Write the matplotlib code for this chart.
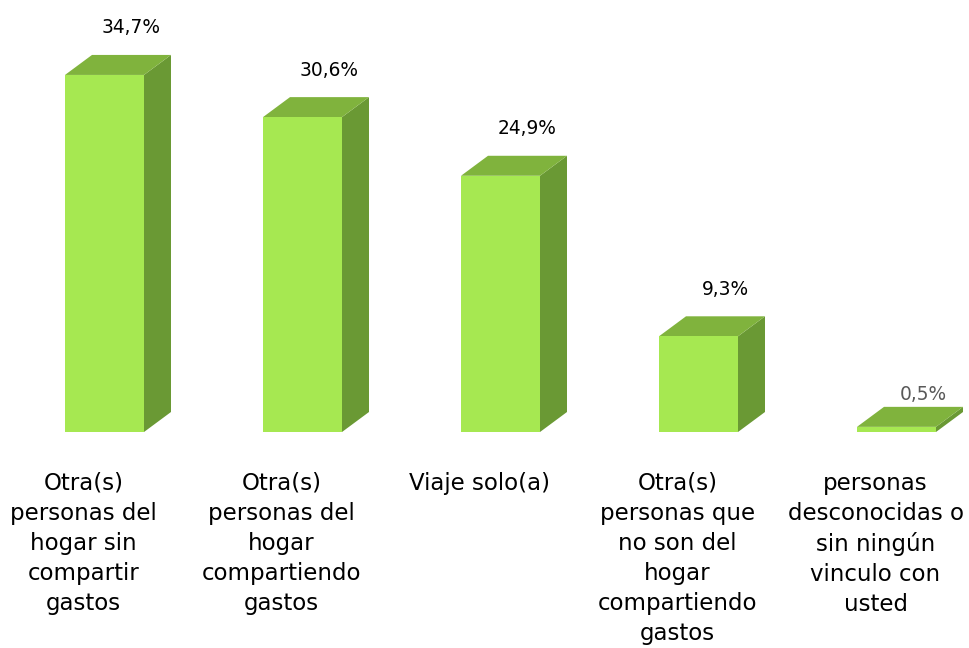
import matplotlib
matplotlib.use("Agg")
import matplotlib.pyplot as plt
from matplotlib.patches import Polygon

categories = [
    "Otra(s)\npersonas del\nhogar sin\ncompartir\ngastos",
    "Otra(s)\npersonas del\nhogar\ncompartiendo\ngastos",
    "Viaje solo(a)",
    "Otra(s)\npersonas que\nno son del\nhogar\ncompartiendo\ngastos",
    "personas\ndesconocidas o\nsin ningún\nvinculo con\nusted",
]
values = [34.7, 30.6, 24.9, 9.3, 0.5]
value_labels = ["34,7%", "30,6%", "24,9%", "9,3%", "0,5%"]

FRONT = "#a6e851"
TOP = "#80b33d"
SIDE = "#6a9934"

fig = plt.figure(figsize=(9.69, 6.48), dpi=100)
ax = fig.add_axes([0, 216 / 648, 1, 432 / 648])
ax.set_xlim(-104.5 / 198, (969 - 104.5) / 198)
ax.set_ylim(0, 432 / 10.29)
ax.axis("off")

width = 79 / 198
dx = 27 / 198
dy = 20 / 10.29

for i, v in enumerate(values):
    x0 = i - width / 2
    x1 = i + width / 2
    front = Polygon([(x0, 0), (x1, 0), (x1, v), (x0, v)], closed=True,
                    facecolor=FRONT, edgecolor="none")
    top = Polygon([(x0, v), (x1, v), (x1 + dx, v + dy), (x0 + dx, v + dy)], closed=True,
                  facecolor=TOP, edgecolor="none")
    side = Polygon([(x1, 0), (x1 + dx, dy), (x1 + dx, v + dy), (x1, v)], closed=True,
                   facecolor=SIDE, edgecolor="none")
    for p in (side, top, front):
        ax.add_patch(p)

    # very short bars get their label tucked closer to the top face
    offset = 27 if v > 1 else 12
    color = "#595959" if v <= 1 else "black"
    ax.annotate(value_labels[i], xy=(i + dx, v + dy), xytext=(0, offset),
                textcoords="offset pixels", ha="center", va="center",
                fontsize=13.4, color=color, annotation_clip=False)

    ax.annotate(categories[i], xy=(i - 21 / 198, 0), xytext=(0, -40),
                textcoords="offset pixels", ha="center", va="top",
                fontsize=16.5, color="black", linespacing=1.39,
                multialignment="center", annotation_clip=False)

fig.savefig("out.png", dpi=100)
